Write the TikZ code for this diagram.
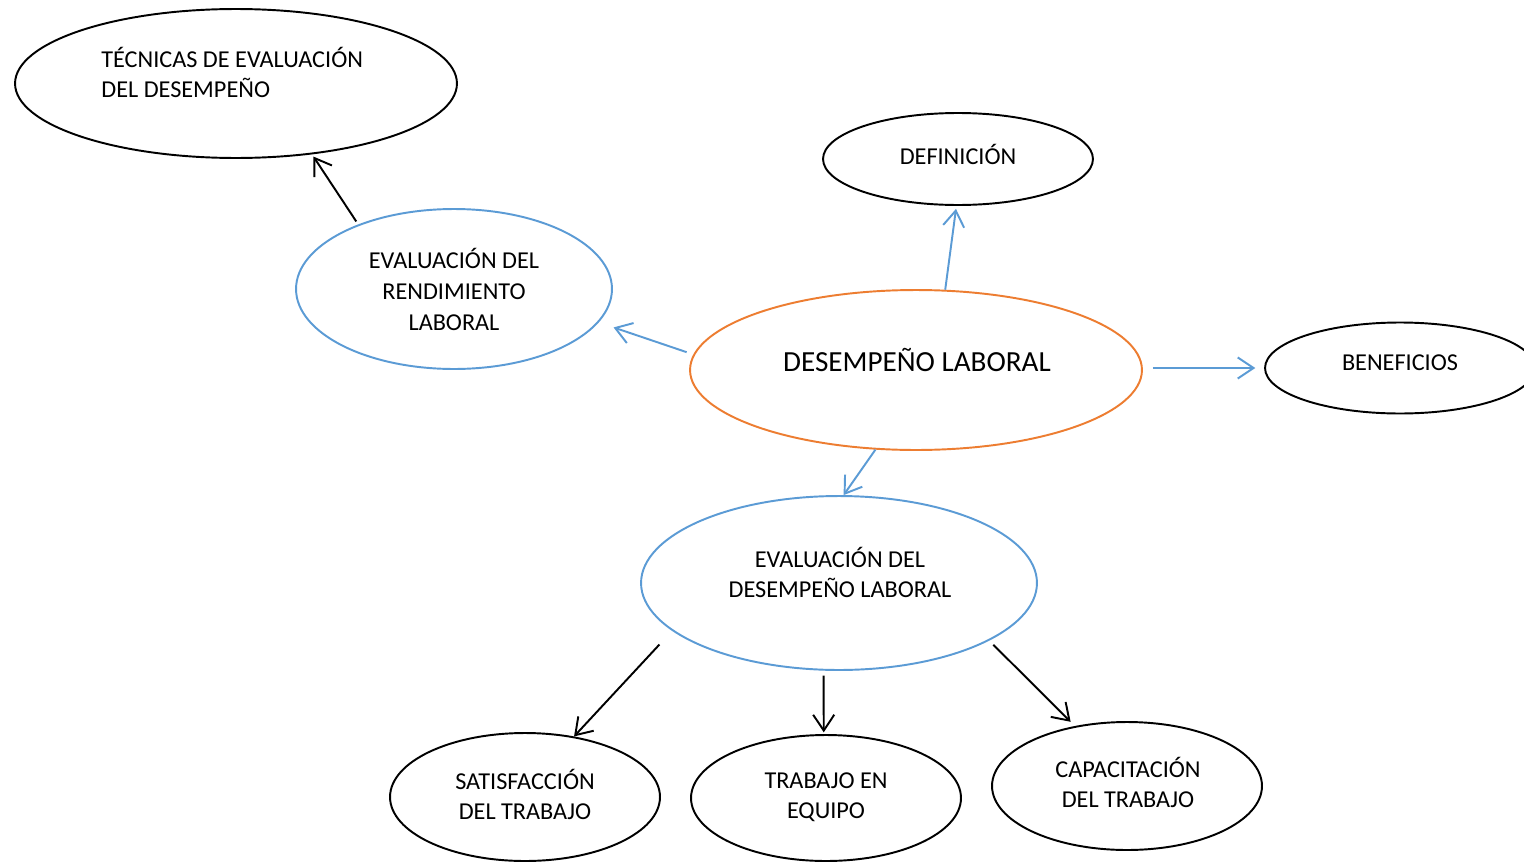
\documentclass[tikz,border=0pt]{standalone}
\usepackage{fontspec}
\setmainfont{Carlito}
\usetikzlibrary{shapes.geometric,arrows.meta}
\definecolor{ablue}{RGB}{91,155,213}
\definecolor{aorange}{RGB}{237,125,49}
\begin{document}
\begin{tikzpicture}[x=0.02cm,y=-0.02cm,
 ell/.style={ellipse,draw,line width=1.1pt,inner sep=0pt},
 txt/.style={inner sep=0pt,align=center,font=\fontsize{13.8}{17}\selectfont},
 bigtxt/.style={inner sep=0pt,align=center,font=\fontsize{16.6}{20}\selectfont},
 arr/.style={line width=1.1pt,-{Straight Barb[length=9pt,width=12pt]}},
]
\useasboundingbox (0,0) rectangle (1524,862);
\fill[white] (0,0) rectangle (1524,862);
% ellipses
\node[ell,minimum width=8.84cm,minimum height=2.98cm] (tec) at (236,83.5) {};
\node[ell,minimum width=5.4cm,minimum height=1.84cm] (def) at (958,159) {};
\node[ell,ablue,minimum width=6.32cm,minimum height=3.2cm] (rend) at (454,289) {};
\node[ell,aorange,minimum width=9.04cm,minimum height=3.2cm] (des) at (916,370) {};
\node[ell,minimum width=5.4cm,minimum height=1.82cm] (ben) at (1400,368) {};
\node[ell,ablue,minimum width=7.92cm,minimum height=3.48cm] (evd) at (839,583) {};
\node[ell,minimum width=5.4cm,minimum height=2.56cm] (sat) at (525,797) {};
\node[ell,minimum width=5.4cm,minimum height=2.52cm] (tra) at (826,798) {};
\node[ell,minimum width=5.4cm,minimum height=2.56cm] (cap) at (1127,786) {};
% texts
\node[txt,align=left,anchor=west] (tect) at (101,72.5) {TÉCNICAS DE EVALUACIÓN\\DEL DESEMPEÑO};
\node[txt] (deft) at (958,154.5) {DEFINICIÓN};
\node[txt] (rendt) at (454,289.5) {EVALUACIÓN DEL\\[0.9pt]RENDIMIENTO\\[0.9pt]LABORAL};
\node[bigtxt] (dest) at (917,360) {DESEMPEÑO LABORAL};
\node[txt] (bent) at (1400,363) {BENEFICIOS};
\node[txt] (evdt) at (840,572.5) {EVALUACIÓN DEL\\[0.5pt]DESEMPEÑO LABORAL};
\node[txt] (satt) at (525,794.5) {SATISFACCIÓN\\DEL TRABAJO};
\node[txt] (trat) at (826,797) {TRABAJO EN\\EQUIPO};
\node[txt] (capt) at (1128,782.5) {CAPACITACIÓN\\DEL TRABAJO};
% connectors
\draw[arr,shorten <=2pt,shorten >=1.5pt] (rend.146.3) -- (tec.-43.8);
\draw[arr,ablue,shorten >=1.7pt] (des.70.5) -- (def.268);
\draw[arr,ablue,shorten <=4pt,shorten >=8.9pt] (des.176.3) -- (rend.-13.5);
\draw[arr,ablue,shorten <=5.7pt,shorten >=5pt] (ben.west -| des.east) -- (ben.west);
\draw[arr,ablue] (des.-117.1) -- (evd.87.3);
\draw[arr,shorten <=10.6pt] (evd.-164.2) -- (sat.51.1);
\draw[arr,shorten <=2.8pt,shorten >=1pt] (evd.-100.4) -- (tra.92.7);
\draw[arr,shorten <=3.3pt,shorten >=3.4pt] (evd.-21.4) -- (cap.131.2);
\end{tikzpicture}
\end{document}
